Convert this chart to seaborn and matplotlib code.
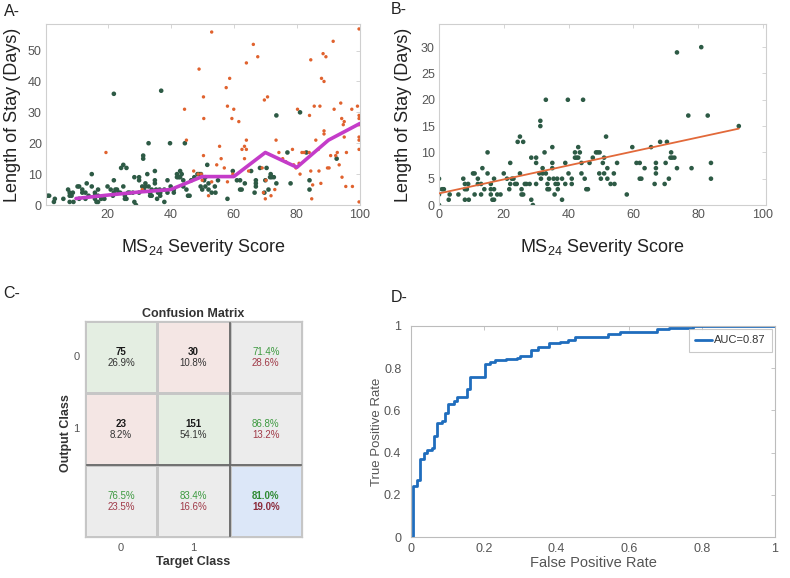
import numpy as np
import matplotlib
matplotlib.use("Agg")
import matplotlib.pyplot as plt
import seaborn as sns
from matplotlib.colors import ListedColormap

# ---------------- data ----------------
# green points (short stays) : severity score vs length of stay
green_x = [0, 0, 0, 1, 1.5, 0, 3, 3.3, 6, 7.5, 8, 8, 8, 9, 9.2, 8.6, 10.5, 11, 12, 12, 11, 13, 13.4, 13, 14,
           15, 15, 16, 16, 16, 16.5, 17, 17, 17, 18, 19, 20, 21, 21.7, 22, 22, 22.5, 23, 23.5, 24, 24.3, 25,
           26, 25, 25.5, 25.5, 26, 26.5, 27, 28, 28.5, 29, 28.5, 30, 30, 30, 31, 31.3, 31.3, 31.5, 32, 32,
           32.6, 33, 33, 33.5, 33.5, 34, 34, 35, 35, 35, 35.4, 35.7, 36, 36.7, 36.7, 36.5, 38, 38, 39, 39,
           39.8, 40, 41, 41, 42, 42, 42.5, 43, 43, 43.5, 44, 44, 44.5, 45, 45.5, 46, 46.5, 47.5, 48.5, 49,
           49.5, 49.6, 50, 50.6, 51, 51, 51.6, 52, 52, 53, 54, 54.2, 55, 58, 59.7, 61, 62, 62, 62.5, 63.5,
           65.5, 66.6, 67, 67, 67, 68.3, 69.7, 70, 70.4, 71, 71.5, 71.7, 72, 72.7, 73.5, 73.5, 77, 78, 81,
           83, 84, 84, 92.6, 22, 37]
green_y = [5, 0, 3, 3, 3, 2, 1, 2, 2, 5, 3, 4, 1, 4, 1, 3, 6, 6, 5, 4, 2, 2, 7, 4, 3,
           10, 6, 4, 3, 2, 1, 1, 5, 3, 2, 2, 6, 5, 3, 8, 4, 5, 5, 4, 4, 12, 13,
           12, 6, 3, 2, 2, 4, 4, 4, 1, 0, 9, 9, 8, 4, 6, 16, 15, 5, 7, 6,
           10, 20, 6, 4, 3, 3, 5, 11, 8, 7, 5, 2, 4, 4, 3, 5, 1, 5, 8, 4,
           20, 6, 4, 5, 9, 10, 9, 9, 11, 10, 8, 6, 20, 5, 3, 3, 8, 9, 10, 10,
           6, 10, 5, 8, 6, 9, 13, 5, 7, 4, 6, 4, 8, 2, 11, 8, 8, 5, 5, 7,
           11, 4, 7, 8, 6, 12, 4, 8, 12, 5, 9, 10, 9, 9, 29, 7, 17, 7, 30,
           17, 5, 8, 15, 36, 37]

# orange points (long stays)
orange_x = [19.5, 31, 44.4, 45, 49, 53, 50.4, 50.5, 50.4, 47.3, 48.7, 49.7, 50, 52, 53, 55.5, 54.6, 56,
            57.6, 58.7, 58, 59.4, 60, 57, 58, 59.7, 61.6, 62.6, 63.4, 64, 64, 64, 63.4, 64.7, 66.2,
            67.6, 69.7, 70.7, 69, 70, 69.4, 70.2, 73.4, 74.3, 73, 71.8, 75.5, 76.5, 78.6, 79, 79.7,
            80.2, 80.7, 81.6, 82.3, 81, 83.9, 84, 84.4, 84.4, 84.7, 85, 85.5, 86, 86.8, 87.3, 87,
            87.8, 88.6, 88.3, 89.2, 88.6, 88.6, 87.6, 89.7, 90.2, 90.7, 91.5, 91.8, 92.3, 92.8, 93.4,
            93.9, 94.2, 95, 94.7, 95, 94.3, 95.5, 97.6, 97.4, 95.7, 99.2, 99.7, 99.7, 99.7, 99.7,
            99.7, 99.7, 99.7, 99.7]
orange_y = [17, 5, 31, 21, 44, 56, 35, 28, 16, 11, 10, 10, 8, 3, 7.5, 19, 13, 15,
            38, 41, 32, 28, 31, 12, 7.5, 10, 27, 18, 19, 21, 18, 46, 15, 11, 52,
            48, 34, 35, 12, 2, 4, 8, 21, 17, 5, 3, 15, 14, 18, 13, 12,
            31, 13.5, 17, 17, 10, 17, 29, 47, 11, 2, 6.5, 32, 21, 18, 32, 11,
            41, 40, 49, 48, 24, 23, 7, 12, 12, 16, 53, 31, 16, 17, 13,
            33, 28, 27, 26, 22, 9, 6, 6, 31, 17, 32, 57, 29, 28,
            22, 21, 18, 1, 26]

# binned mean length of stay (panel A line)
bin_score = [10, 20, 30, 40, 50, 60, 70, 80, 90, 100]
bin_los = [2.1, 3.2, 4.2, 5.0, 9.2, 9.2, 17.0, 12.2, 21.0, 26.4]

# linear fit (panel B)
fit_intercept = 2.2
fit_slope = 0.133
fit_range = [0, 92.6]

# confusion matrix (panel C)
class_labels = ['0', '1']
conf_counts = [[75, 30], [23, 151]]

# ROC curve (panel D)
fpr = [0, 0.006, 0.016, 0.026, 0.035, 0.044, 0.058, 0.062, 0.071, 0.085, 0.094, 0.103, 0.117, 0.126,
       0.154, 0.163, 0.204, 0.218, 0.231, 0.26, 0.29, 0.30, 0.33, 0.35, 0.38, 0.41, 0.43, 0.45,
       0.54, 0.575, 0.675, 0.71, 0.775, 1.0]
tpr = [0, 0.24, 0.27, 0.37, 0.40, 0.41, 0.42, 0.48, 0.54, 0.55, 0.59, 0.63, 0.645, 0.665,
       0.70, 0.76, 0.82, 0.83, 0.84, 0.845, 0.85, 0.86, 0.885, 0.90, 0.92, 0.925, 0.935, 0.95,
       0.96, 0.97, 0.985, 0.99, 1.0, 1.0]
auc_label = 'AUC=0.87'

# ---------------- style ----------------
sns.set_theme(style='white')
plt.rcParams['font.family'] = ['Liberation Sans', 'DejaVu Sans']
plt.rcParams['mathtext.fontset'] = 'custom'
plt.rcParams['mathtext.rm'] = 'Liberation Sans'

W, H = 790, 578
fig = plt.figure(figsize=(W / 100, H / 100), dpi=100)


def add_ax(l, t, r, b):
    return fig.add_axes([l / W, 1 - b / H, (r - l) / W, (b - t) / H])


def matlab_style(ax, color='#cfcfcf', labelsize=9):
    for s in ax.spines.values():
        s.set_visible(True)
        s.set_color(color)
        s.set_linewidth(0.8)
    ax.tick_params(direction='in', length=3, width=0.6, color=color, labelcolor='#555555',
                   labelsize=labelsize, top=True, right=True, pad=3)


GREEN = '#2d5a45'
ORANGE = '#e0622e'

# ---------------- Panel A ----------------
axA = add_ax(46, 24, 360, 205)
sns.scatterplot(x=green_x, y=green_y, color=GREEN, s=11, edgecolor='none', ax=axA, zorder=2)
sns.scatterplot(x=orange_x, y=orange_y, color=ORANGE, s=6, edgecolor='none', ax=axA, zorder=3)
sns.lineplot(x=bin_score, y=bin_los, color='#c43cc9', lw=2.6, ax=axA, zorder=4)
axA.set_xlim(0.5, 100)
axA.set_ylim(0, 58.6)
axA.set_xticks([20, 40, 60, 80, 100])
axA.set_yticks([0, 10, 20, 30, 40, 50])
matlab_style(axA)
axA.set_xlabel(r'MS$_{\mathregular{24}}$ Severity Score', fontsize=13, color='#222222')
axA.set_ylabel('Length of Stay (Days)', fontsize=13, color='#222222')
axA.xaxis.set_label_coords(0.5, -0.175)
axA.yaxis.set_label_coords(-0.08, 0.5)

# ---------------- Panel B ----------------
axB = add_ax(439, 24, 766, 205)
sns.scatterplot(x=green_x, y=green_y, color=GREEN, s=11, edgecolor='none', ax=axB, zorder=2)
fit_y = [fit_intercept + fit_slope * v for v in fit_range]
sns.lineplot(x=fit_range, y=fit_y, color='#e2693a', lw=1.3, ax=axB, zorder=3)
axB.set_xlim(0, 101)
axB.set_ylim(0, 34.4)
axB.set_xticks([0, 20, 40, 60, 80, 100])
axB.set_yticks([0, 5, 10, 15, 20, 25, 30])
matlab_style(axB)
axB.set_xlabel(r'MS$_{\mathregular{24}}$ Severity Score', fontsize=13, color='#222222')
axB.set_ylabel('Length of Stay (Days)', fontsize=13, color='#222222')
axB.xaxis.set_label_coords(0.5, -0.175)
axB.yaxis.set_label_coords(-0.083, 0.5)

# ---------------- Panel C ----------------
axC = add_ax(85, 321, 302, 537)
cm = np.array(conf_counts)
total = cm.sum()
codes = np.array([[0, 1, 2], [1, 0, 2], [2, 2, 3]])
cmap = ListedColormap(['#e4eee2', '#f4e6e4', '#ececec', '#dce7f8'])
sns.heatmap(codes, cmap=cmap, vmin=-0.5, vmax=3.5, cbar=False, linewidths=0.8,
            linecolor='#c6c6c6', ax=axC, xticklabels=class_labels + [''],
            yticklabels=class_labels + [''])
axC.axhline(2, color='#6a6a6a', lw=1.3)
axC.axvline(2, color='#6a6a6a', lw=1.3)
for s in axC.spines.values():
    s.set_visible(True)
    s.set_color('#c6c6c6')
    s.set_linewidth(0.9)
GC, RC = '#3d9a40', '#a03a48'
for i in range(2):
    for j in range(2):
        axC.text(j + 0.5, i + 0.43, f'{cm[i, j]}', ha='center', va='center', fontsize=7,
                 fontweight='bold', color='#1a1a1a')
        axC.text(j + 0.5, i + 0.58, f'{100 * cm[i, j] / total:.1f}%', ha='center', va='center',
                 fontsize=7, color='#333333')
# row summaries (precision) and column summaries (recall)
for i in range(2):
    p = 100 * cm[i, i] / cm[i, :].sum()
    axC.text(2.5, i + 0.43, f'{p:.1f}%', ha='center', va='center', fontsize=7, color=GC)
    axC.text(2.5, i + 0.58, f'{100 - p:.1f}%', ha='center', va='center', fontsize=7, color=RC)
for j in range(2):
    r = 100 * cm[j, j] / cm[:, j].sum()
    axC.text(j + 0.5, 2.43, f'{r:.1f}%', ha='center', va='center', fontsize=7, color=GC)
    axC.text(j + 0.5, 2.58, f'{100 - r:.1f}%', ha='center', va='center', fontsize=7, color=RC)
acc = 100 * np.trace(cm) / total
axC.text(2.5, 2.43, f'{acc:.1f}%', ha='center', va='center', fontsize=7, color='#2f8a33',
         fontweight='bold')
axC.text(2.5, 2.58, f'{100 - acc:.1f}%', ha='center', va='center', fontsize=7, color='#8a2a3a',
         fontweight='bold')
axC.tick_params(length=0, labelsize=8, labelcolor='#555555', pad=4)
plt.setp(axC.get_yticklabels(), rotation=0)
axC.set_title('Confusion Matrix', fontsize=9, fontweight='bold', color='#333333', pad=3)
axC.set_xlabel('Target Class', fontsize=9, fontweight='bold', color='#333333')
axC.set_ylabel('Output Class', fontsize=9, fontweight='bold', color='#333333')
axC.xaxis.set_label_coords(0.5, -0.09)
axC.yaxis.set_label_coords(-0.058, 0.48)

# ---------------- Panel D ----------------
axD = add_ax(411, 326, 775, 537)
sns.lineplot(x=fpr, y=tpr, drawstyle='steps-post', color='#1f6dbd', lw=2.0, ax=axD,
             label=auc_label)
axD.set_xlim(0, 1)
axD.set_ylim(0, 1)
axD.set_xticks([0, 0.2, 0.4, 0.6, 0.8, 1])
axD.set_xticklabels(['0', '0.2', '0.4', '0.6', '0.8', '1'])
axD.set_yticks([0, 0.2, 0.4, 0.6, 0.8, 1])
axD.set_yticklabels(['0', '0.2', '0.4', '0.6', '0.8', '1'])
matlab_style(axD, color='#bcbcbc')
axD.tick_params(axis='y', pad=7)
axD.tick_params(axis='x', pad=4)
axD.set_xlabel('False Positive Rate', fontsize=10.5, color='#555555')
axD.set_ylabel('True Positive Rate', fontsize=9.5, color='#555555')
axD.xaxis.set_label_coords(0.5, -0.092)
axD.yaxis.set_label_coords(-0.077, 0.5)
leg = axD.legend(loc='upper right', fontsize=8, frameon=True, fancybox=False,
                 edgecolor='#bcbcbc', borderaxespad=0.3, handlelength=1.5,
                 handletextpad=0.2, borderpad=0.55)
leg.get_frame().set_linewidth(0.8)
for t in leg.get_texts():
    t.set_color('#333333')

# ---------------- panel letters ----------------
fig.text(4 / W, 1 - 11 / H, 'A-', fontsize=11.5, va='center', ha='left', color='#222222')
fig.text(391 / W, 1 - 10 / H, 'B-', fontsize=11.5, va='center', ha='left', color='#222222')
fig.text(3 / W, 1 - 294 / H, 'C-', fontsize=11.5, va='center', ha='left', color='#222222')
fig.text(391 / W, 1 - 298 / H, 'D-', fontsize=11.5, va='center', ha='left', color='#222222')

fig.savefig('out.png', dpi=100)
